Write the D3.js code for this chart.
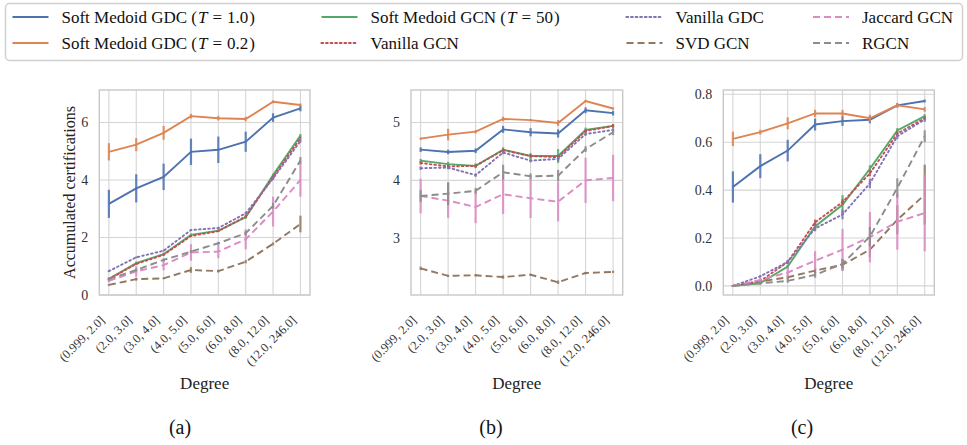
<!DOCTYPE html>
<html><head><meta charset="utf-8">
<script src="https://cdn.jsdelivr.net/npm/d3@7"></script>
<style>body{margin:0;background:#fff}svg{display:block}</style>
</head><body><svg id="c" width="967" height="445"></svg>
<script>
const categories = ["(0.999, 2.0]","(2.0, 3.0]","(3.0, 4.0]","(4.0, 5.0]","(5.0, 6.0]","(6.0, 8.0]","(8.0, 12.0]","(12.0, 246.0]"];
const seriesNames = ["Soft Medoid GDC (T = 1.0)","Soft Medoid GDC (T = 0.2)","Soft Medoid GCN (T = 50)","Vanilla GCN","Vanilla GDC","SVD GCN","Jaccard GCN","RGCN"];
const seriesColors = ["#4C72B0","#DD8452","#55A868","#C44E52","#8172B3","#937860","#DA8BC3","#8C8C8C"];
const seriesStyles = ["solid","solid","solid","dotted","dotted","dashed","dashed","dashed"];
const panelLabels = ["(a)","(b)","(c)"];
const yTicksA = [0,2,4,6];
const yTicksB = [3,4,5];
const yTicksC = [0,0.2,0.4,0.6,0.8];

// Panel (a) means / errors (order as seriesNames)
const meanA = [
 [3.17,3.71,4.11,4.98,5.05,5.33,6.17,6.49],
 [4.98,5.23,5.64,6.22,6.15,6.12,6.72,6.61],
 [0.56,1.11,1.42,2.09,2.24,2.70,4.17,5.55],
 [0.55,1.08,1.40,2.05,2.22,2.73,4.10,5.45],
 [0.83,1.31,1.54,2.26,2.33,2.84,4.05,5.35],
 [0.35,0.55,0.58,0.87,0.83,1.16,1.78,2.47],
 [0.49,0.82,1.04,1.48,1.51,1.94,2.90,4.00],
 [0.55,0.87,1.22,1.51,1.80,2.15,3.10,4.68]];
const errA = [
 [0.49,0.49,0.46,0.46,0.46,0.35,0.15,0.10],
 [0.30,0.23,0.24,0.08,0.08,0.08,0.05,0.05],
 [0.05,0.05,0.05,0.05,0.05,0.05,0.05,0.05],
 [0.03,0.03,0.03,0.03,0.03,0.05,0.05,0.05],
 [0.03,0.03,0.03,0.03,0.03,0.05,0.05,0.05],
 [0.03,0.05,0.03,0.10,0.05,0.06,0.05,0.29],
 [0.05,0.18,0.18,0.29,0.23,0.35,0.52,0.58],
 [0.05,0.05,0.05,0.05,0.05,0.08,0.10,0.12]];
// Panel (b)
const meanB = [
 [4.53,4.49,4.51,4.88,4.83,4.81,5.21,5.16],
 [4.72,4.79,4.84,5.06,5.04,4.99,5.37,5.24],
 [4.34,4.28,4.25,4.53,4.42,4.42,4.87,4.94],
 [4.30,4.24,4.25,4.52,4.42,4.40,4.85,4.94],
 [4.21,4.22,4.09,4.48,4.34,4.37,4.80,4.87],
 [2.48,2.35,2.36,2.33,2.37,2.24,2.40,2.42],
 [3.73,3.65,3.54,3.76,3.69,3.63,4.00,4.04],
 [3.73,3.77,3.82,4.14,4.07,4.08,4.54,4.83]];
const errB = [
 [0.04,0.04,0.04,0.06,0.07,0.07,0.05,0.04],
 [0.02,0.10,0.03,0.04,0.02,0.05,0.02,0.02],
 [0.03,0.04,0.04,0.04,0.05,0.12,0.04,0.03],
 [0.03,0.03,0.03,0.03,0.03,0.04,0.03,0.03],
 [0.03,0.03,0.03,0.03,0.03,0.04,0.03,0.03],
 [0.03,0.02,0.02,0.03,0.02,0.03,0.02,0.02],
 [0.30,0.30,0.28,0.34,0.34,0.34,0.39,0.40],
 [0.10,0.20,0.05,0.13,0.05,0.10,0.05,0.05]];
// Panel (c)
const meanC = [
 [0.413,0.500,0.565,0.674,0.688,0.694,0.754,0.772],
 [0.614,0.642,0.679,0.720,0.720,0.700,0.754,0.737],
 [0.000,0.011,0.081,0.248,0.339,0.489,0.649,0.709],
 [0.000,0.020,0.100,0.265,0.350,0.470,0.636,0.700],
 [0.000,0.040,0.100,0.240,0.298,0.428,0.625,0.695],
 [0.000,0.018,0.036,0.064,0.088,0.151,0.276,0.381],
 [0.000,0.025,0.056,0.105,0.151,0.204,0.268,0.304],
 [0.000,0.011,0.021,0.046,0.092,0.206,0.409,0.625]];
const errC = [
 [0.065,0.050,0.045,0.025,0.020,0.015,0.008,0.006],
 [0.030,0.010,0.025,0.015,0.015,0.015,0.010,0.010],
 [0.003,0.005,0.008,0.015,0.040,0.015,0.010,0.008],
 [0.003,0.005,0.008,0.012,0.012,0.012,0.010,0.008],
 [0.003,0.005,0.008,0.012,0.020,0.020,0.012,0.010],
 [0.003,0.005,0.008,0.012,0.025,0.030,0.060,0.125],
 [0.003,0.008,0.020,0.040,0.087,0.105,0.117,0.160],
 [0.003,0.005,0.008,0.012,0.020,0.040,0.040,0.025]];

const SERIF = "'Liberation Serif', 'DejaVu Serif', serif";
const svg = d3.select("#c");
const panels = [
 {mean:meanA, err:errA, ticks:yTicksA, dom:[0,7.13], left:99.3, right:310, fmt:d3.format("d"), ylabel:"Accumulated certifications", sub:180},
 {mean:meanB, err:errB, ticks:yTicksB, dom:[2.02,5.56], left:411, right:622.7, fmt:d3.format("d"), ylabel:null, sub:491},
 {mean:meanC, err:errC, ticks:yTicksC, dom:[-0.038,0.818], left:723.3, right:934.3, fmt:d3.format(".1f"), ylabel:null, sub:802}
];
const plotTop = 90, plotBottom = 295;
const dashFor = s => s==="dashed" ? "7,4" : s==="dotted" ? "1.6,3" : null;
const capFor = s => s==="dotted" ? "round" : "butt";

panels.forEach((p,pi)=>{
  const g = svg.append("g");
  const x = d3.scalePoint().domain(categories).range([p.left,p.right]).padding(0.35);
  const y = d3.scaleLinear().domain(p.dom).range([plotBottom,plotTop]);
  g.selectAll(".vg").data(categories).join("line")
    .attr("x1",d=>x(d)).attr("x2",d=>x(d)).attr("y1",plotTop).attr("y2",plotBottom)
    .attr("stroke","#d5d5d5").attr("stroke-width",1.1);
  g.selectAll(".hg").data(p.ticks).join("line")
    .attr("x1",p.left).attr("x2",p.right).attr("y1",d=>y(d)).attr("y2",d=>y(d))
    .attr("stroke","#d5d5d5").attr("stroke-width",1.1);
  const ya = d3.axisLeft(y).tickValues(p.ticks).tickFormat(p.fmt).tickSize(0).tickPadding(11);
  const yg = g.append("g").attr("transform",`translate(${p.left},0)`).call(ya);
  yg.select(".domain").remove();
  yg.attr("font-family",null).attr("font-size",null);
  yg.selectAll("text").attr("font-size",14).attr("fill","#333");
  const xa = d3.axisBottom(x).tickSize(0).tickPadding(0);
  const xg = g.append("g").attr("transform",`translate(0,${plotBottom})`).call(xa);
  xg.select(".domain").remove();
  xg.attr("font-family",null).attr("font-size",null);
  xg.selectAll("text").attr("font-size",12.5).attr("fill","#333")
    .attr("text-anchor","end").attr("dy",null).attr("y",0)
    .attr("transform","translate(-4,26) rotate(-45)");
  seriesNames.forEach((name,si)=>{
    const vals = p.mean[si], errs = p.err[si];
    const col = seriesColors[si];
    g.append("g").selectAll("line").data(vals).join("line")
      .attr("x1",(d,i)=>x(categories[i])).attr("x2",(d,i)=>x(categories[i]))
      .attr("y1",(d,i)=>y(d-errs[i])).attr("y2",(d,i)=>y(d+errs[i]))
      .attr("stroke",col).attr("stroke-width",2.2).attr("opacity",0.85);
    const line = d3.line().x((d,i)=>x(categories[i])).y(d=>y(d));
    g.append("path").datum(vals).attr("d",line).attr("fill","none")
      .attr("stroke",col).attr("stroke-width",1.9)
      .attr("stroke-dasharray",dashFor(seriesStyles[si]))
      .attr("stroke-linecap",capFor(seriesStyles[si]));
  });
  g.append("rect").attr("x",p.left).attr("y",plotTop).attr("width",p.right-p.left).attr("height",plotBottom-plotTop)
    .attr("fill","none").attr("stroke","#c8c8c8").attr("stroke-width",1.4);
  if(p.ylabel){
    g.append("text").attr("transform",`translate(75,${(plotTop+plotBottom)/2}) rotate(-90)`)
      .attr("text-anchor","middle").attr("font-size",16).attr("fill","#222").text(p.ylabel);
  }
  g.append("text").attr("x",(p.left+p.right)/2).attr("y",389).attr("text-anchor","middle")
    .attr("font-size",17).attr("fill","#222").text("Degree");
  g.append("text").attr("x",p.sub).attr("y",434).attr("text-anchor","middle")
    .attr("font-size",20).attr("fill","#111").text(panelLabels[pi]);
});

const lg = svg.append("g");
lg.append("rect").attr("x",5.5).attr("y",3.5).attr("width",957).attr("height",57).attr("rx",4)
  .attr("fill","#fff").attr("stroke","#d0d0d0").attr("stroke-width",1.5);
const colX = [12.5,321.5,626.5,813];
const rowY = [17,43];
seriesNames.forEach((name,si)=>{
  const c = Math.floor(si/2), r = si%2;
  const lx = colX[c], ly = rowY[r];
  lg.append("line").attr("x1",lx).attr("x2",lx+36).attr("y1",ly).attr("y2",ly)
    .attr("stroke",seriesColors[si]).attr("stroke-width",2.2)
    .attr("stroke-dasharray",dashFor(seriesStyles[si]))
    .attr("stroke-linecap",capFor(seriesStyles[si]));
  const t = lg.append("text").attr("x",lx+49).attr("y",ly+6).attr("font-size",17).attr("fill","#111");
  const m = name.match(/^(.*)\(T = (.*)\)$/);
  if(m){
    t.append("tspan").text(m[1]+"(");
    t.append("tspan").attr("font-style","italic").attr("dx",1).text("T");
    t.append("tspan").attr("dx",5).text("=");
    t.append("tspan").attr("dx",5).text(m[2]);
    t.append("tspan").attr("dx",1).text(")");
  } else t.text(name);
});
svg.selectAll("text").style("font-family",SERIF);
</script></body></html>
